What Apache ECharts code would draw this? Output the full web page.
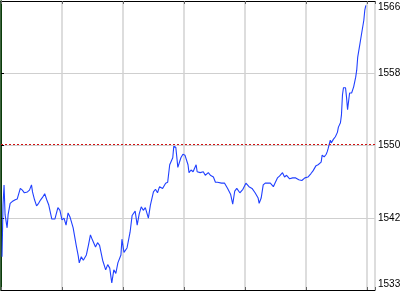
<!DOCTYPE html>
<html><head><meta charset="utf-8">
<script src="https://cdn.jsdelivr.net/npm/echarts@6/dist/echarts.min.js"></script>
<style>html,body{margin:0;padding:0;background:#fff}#c{width:400px;height:293px}</style>
</head><body><div id="c"></div>
<script>
// minutes from session start
var minutes = [1,2,3,4,6,7,9,11,14,16,19,21,23,26,28,30,31,33,35,37,39,41,43,45,47,50,53,56,58,60,62,64,66,68,71,74,76,77,79,81,84,86,88,90,93,95,97,100,103,105,107,109,111,113,115,118,119,121,124,127,129,132,134,136,138,140,142,145,147,150,152,154,156,159,162,164,166,169,170,172,174,177,179,181,184,185,187,189,192,193,196,199,201,204,206,209,211,213,217,220,223,226,228,230,232,235,238,241,244,247,250,253,254,256,258,260,263,265,268,270,272,274,277,279,281,284,287,290,293,296,299,302,305,307,310,312,315,316,318,320,321,322,324,325,327,329,331,332,334,335,336,337,339,340,341,343,345,347,349,350,351,353,355,357,358,359];
var prices = [1537.2,1543.1,1545.4,1542.0,1540.5,1542.0,1543.3,1543.5,1543.7,1543.8,1545.0,1544.8,1544.5,1544.6,1544.8,1545.4,1544.6,1543.7,1543.0,1543.3,1543.7,1544.0,1544.4,1543.7,1543.1,1541.5,1541.5,1542.8,1542.5,1541.4,1541.6,1540.8,1542.2,1541.7,1540.5,1538.5,1537.3,1536.5,1537.2,1536.8,1537.4,1538.5,1539.7,1539.1,1538.3,1538.8,1538.5,1536.8,1535.7,1536.3,1535.9,1534.2,1535.7,1535.3,1536.5,1537.4,1539.2,1537.7,1538.2,1540.0,1541.9,1542.4,1540.8,1542.1,1542.9,1542.5,1542.8,1541.6,1543.1,1544.6,1544.9,1544.5,1545.2,1545.0,1545.6,1545.7,1547.7,1548.5,1549.8,1549.7,1547.4,1548.5,1548.9,1548.8,1547.7,1546.8,1547.1,1546.9,1547.7,1546.9,1546.8,1546.9,1546.5,1546.8,1546.5,1546.3,1545.7,1545.7,1545.6,1545.6,1545.0,1544.3,1543.2,1544.7,1545.0,1544.5,1544.9,1545.6,1545.2,1545.0,1544.5,1543.9,1543.3,1543.9,1545.4,1545.6,1545.6,1545.6,1545.2,1545.7,1546.2,1546.4,1546.8,1546.3,1546.5,1546.1,1546.2,1546.2,1546.0,1545.9,1546.2,1546.3,1546.7,1547.0,1547.6,1547.7,1548.0,1548.8,1548.6,1548.9,1549.2,1549.6,1550.5,1550.2,1550.6,1550.9,1551.4,1552.0,1552.5,1553.4,1555.7,1556.5,1556.5,1555.4,1554.0,1555.9,1555.9,1556.6,1557.7,1558.5,1560.0,1561.4,1562.8,1564.2,1565.4,1565.9];
var refLevel = 1550;
var yMin = 1533.4, yMax = 1566.4, yStep = 8.25;
var xMax = 368, xStep = 60;

var data = minutes.map(function(m, i){ return [m, prices[i]]; });
var chart = echarts.init(document.getElementById('c'), null, {renderer:'canvas'});
var green = '#0b3d0b';
chart.setOption({
  animation: false,
  grid: {left: 1, right: 25, top: 1, bottom: 3, containLabel: false, outerBoundsMode: 'none'},
  xAxis: [{
    type: 'value', min: 0, max: xMax, interval: xStep, position: 'bottom',
    axisLine: {show: true, onZero: false, lineStyle: {color: '#000', width: 1}},
    axisTick: {show: true, inside: true, length: 3, lineStyle: {color: '#666'}},
    axisLabel: {show: false},
    splitLine: {show: true, lineStyle: {color: '#d2d2d2', width: 1.5}}
  }, {
    type: 'value', min: 0, max: xMax, interval: xStep, position: 'top',
    axisLine: {show: true, onZero: false, lineStyle: {color: '#000', width: 1}},
    axisTick: {show: true, inside: true, length: 3, lineStyle: {color: '#666'}},
    axisLabel: {show: false}, splitLine: {show: false}
  }],
  yAxis: [{
    type: 'value', position: 'right', min: yMin, max: yMax, interval: yStep,
    axisLine: {show: true, lineStyle: {color: green, width: 1}},
    axisTick: {show: true, length: 3, lineStyle: {color: green}},
    axisLabel: {
      show: true, margin: 3, color: '#000', fontSize: 10, lineHeight: 12,
      fontFamily: '"Liberation Sans", Arial, sans-serif',
      formatter: function(v){
        var s = String(Math.round(v));
        if (Math.abs(v - yMax) < 0.01) return '\n' + s;
        if (Math.abs(v - yMin) < 0.01) return s + '\n';
        return s;
      }
    },
    splitLine: {show: true, lineStyle: {color: '#cfcfcf', width: 1}}
  }, {
    type: 'value', position: 'left', min: yMin, max: yMax, interval: yStep,
    axisLine: {show: true, lineStyle: {color: green, width: 1.5}},
    axisTick: {show: true, inside: true, length: 3, lineStyle: {color: '#000'}},
    axisLabel: {show: false}, splitLine: {show: false}
  }],
  series: [{
    type: 'line', data: data, xAxisIndex: 0, yAxisIndex: 0,
    showSymbol: false, symbol: 'none',
    lineStyle: {color: '#2040ff', width: 1.1},
    markLine: {
      silent: true, symbol: ['none','none'], label: {show: false},
      lineStyle: {color: '#d01010', type: [2, 2], width: 1},
      data: [{yAxis: refLevel}]
    }
  }]
});
</script></body></html>
